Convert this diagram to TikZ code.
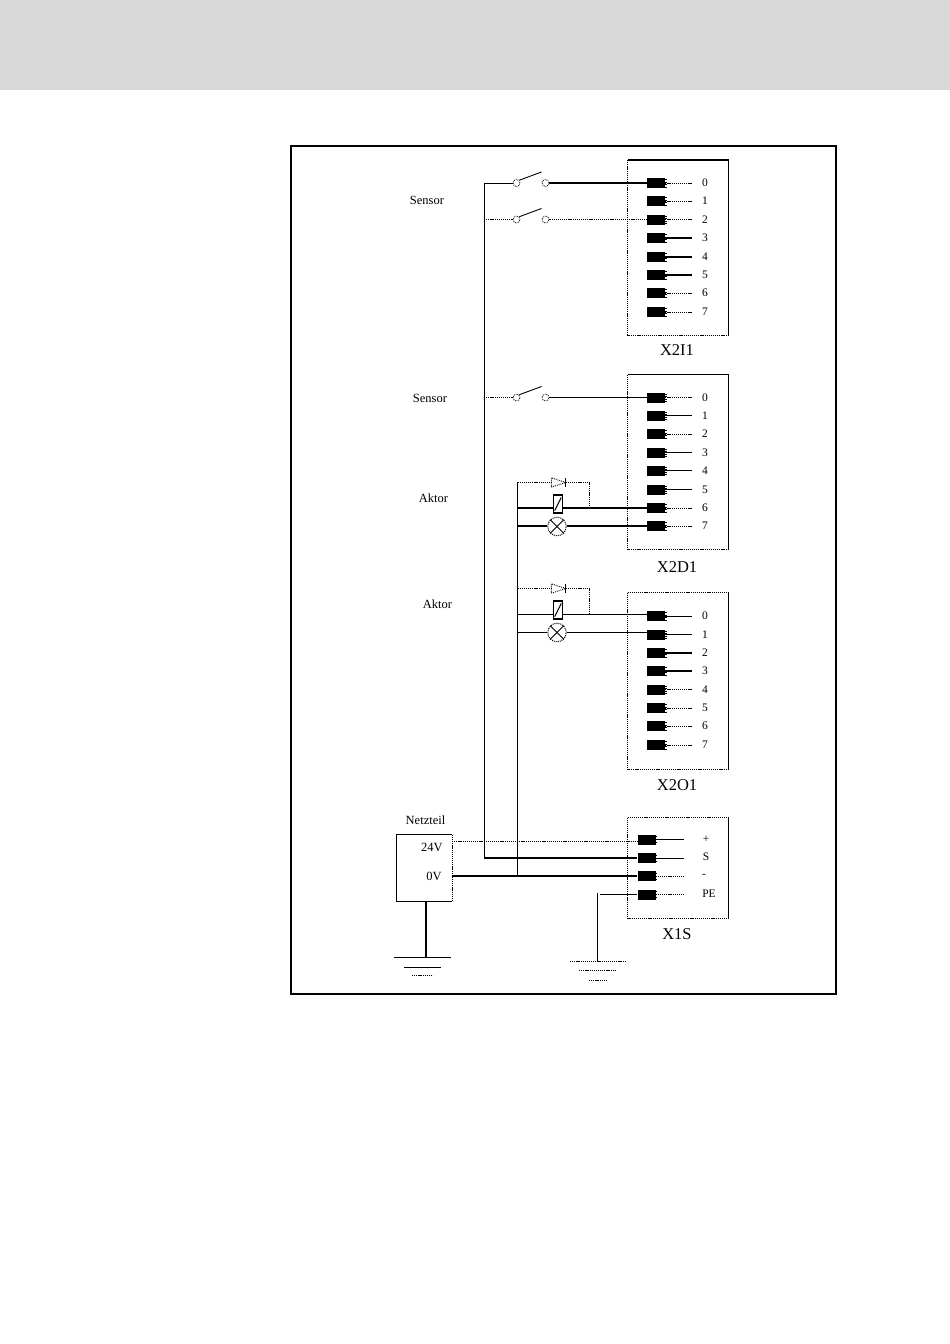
\documentclass[tikz,border=0pt]{standalone}
\usepackage{fontspec}
\usetikzlibrary{calc}
\setmainfont{Liberation Serif}
\begin{document}
\begin{tikzpicture}[x=1pt,y=-1pt,
  wire/.style={line width=1pt,line cap=butt},
  thickwire/.style={line width=2pt},
  dotwire/.style={line width=1pt,dash pattern=on 1.2pt off 0.9pt},
  pinbox/.style={fill=black,inner sep=0pt,minimum width=18pt,minimum height=10pt},
  sterm/.style={circle,draw,densely dotted,line width=0.8pt,inner sep=0pt,minimum size=7pt},
  small/.style={inner sep=0pt,font=\fontsize{12.5}{13}\selectfont},
  big/.style={inner sep=0pt,font=\fontsize{16.5}{17}\selectfont},
  pinno/.style={inner sep=0pt,font=\fontsize{11.5}{12}\selectfont},
  anchorpt/.style={inner sep=0pt,minimum size=0pt}]
\useasboundingbox (0,0) rectangle (950,1344);
\fill[white] (0,0) rectangle (950,1344);
\fill[black!15] (0,0) rectangle (950,90);
% frame
\draw[line width=2pt] (291,146) rectangle (836,994);
% connector housings
\newcommand{\housing}[6]{%
  \draw[dotwire] (#1,#3) -- (#1,#4) -- (#2,#4);
  \draw[#5] (#1,#3) -- (#2,#3);
  \draw[#6] (#2,#3) -- (#2,#4);}
\housing{627.5}{728.5}{160}{335}{thickwire}{wire}
\housing{627.5}{728.5}{374.5}{549.5}{wire}{wire}
\housing{627.5}{728.5}{592.5}{769.5}{dotwire}{wire}
\housing{627.5}{728.5}{817.5}{918.5}{dotwire}{wire}
% pins: name, y, label, lead style
\newcommand{\pinrow}[4]{%
  \node[pinbox] (#1) at (656,#2) {};
  \foreach \dy in {-3.5,-1,1.5,4} \draw[line width=0.8pt] (665,#2+\dy) -- (667,#2+\dy);
  \coordinate (#1e) at (692,#2);
  \draw[#4] (#1.east) -- (#1e);
  \node[pinno] (#1t) at (705,#2) {#3};}
\pinrow{Ia}{183}{0}{dotwire}
\pinrow{Ib}{201}{1}{dotwire}
\pinrow{Ic}{219.5}{2}{dotwire}
\pinrow{Id}{238}{3}{thickwire}
\pinrow{Ie}{257}{4}{thickwire}
\pinrow{If}{275}{5}{thickwire}
\pinrow{Ig}{293}{6}{dotwire}
\pinrow{Ih}{312}{7}{dotwire}
\pinrow{Da}{397.5}{0}{dotwire}
\pinrow{Db}{415.5}{1}{wire}
\pinrow{Dc}{434}{2}{dotwire}
\pinrow{Dd}{452.5}{3}{wire}
\pinrow{De}{470.5}{4}{wire}
\pinrow{Df}{489.5}{5}{wire}
\pinrow{Dg}{508}{6}{dotwire}
\pinrow{Dh}{526}{7}{dotwire}
\pinrow{Oa}{616}{0}{wire}
\pinrow{Ob}{634.5}{1}{wire}
\pinrow{Oc}{653}{2}{thickwire}
\pinrow{Od}{671}{3}{thickwire}
\pinrow{Oe}{689.5}{4}{dotwire}
\pinrow{Of}{708}{5}{dotwire}
\pinrow{Og}{726}{6}{dotwire}
\pinrow{Oh}{745}{7}{dotwire}
% X1S pins
\newcommand{\spin}[4]{%
  \node[pinbox] (#1) at (646.5,#2) {};
  \foreach \dy in {-3,0,3} \draw[line width=0.8pt] (655,#2+\dy) -- (657,#2+\dy);
  \coordinate (#1e) at (684,#2);
  \draw[#4] (#1.east) -- (#1e);}
\spin{Sa}{839.5}{+}{wire}
\spin{Sb}{858}{S}{wire}
\spin{Sc}{876}{-}{dotwire}
\spin{Sd}{894.5}{PE}{dotwire}
\node[pinno] (Sat) at (706,839) {+};
\node[pinno] (Sbt) at (706,857) {S};
\node[pinno] (Sct) at (704,876) {-};
\node[pinno] (Sdt) at (709,894) {PE};
% bus junctions
\coordinate (busAtop) at (484,183);
\coordinate (busAsw2) at (484,219.5);
\coordinate (busAsw3) at (484,397.5);
\coordinate (busAbot) at (484,858);
\coordinate (busBtop) at (517.5,482.5);
\coordinate (busBr1) at (517.5,508);
\coordinate (busBl1) at (517.5,526);
\coordinate (busBd2) at (517.5,588.5);
\coordinate (busBr2) at (517.5,614.5);
\coordinate (busBl2) at (517.5,632.5);
\coordinate (busBbot) at (517.5,876);
\draw[wire] (484,182.5) -- (484,859);
\draw[wire] (517.5,482) -- (517.5,877);
% switches
\newcommand{\switch}[2]{%
  \node[sterm] (#1l) at (516.5,#2) {};
  \node[sterm] (#1r) at (545.5,#2) {};
  \draw[line width=0.9pt] (#1l.north east) -- (541.5,#2-11);}
\switch{swa}{183}
\switch{swb}{219.5}
\switch{swc}{397.5}
\draw[wire] (busAtop) -- (swal);
\draw[thickwire] (swar) -- (Ia.west);
\draw[dotwire] (busAsw2) -- (swbl);
\draw[dotwire] (swbr) -- (Ic.west);
\draw[dotwire] (busAsw3) -- (swcl);
\draw[wire] (swcr) -- (Da.west);
% diode / relay / lamp groups
\newcommand{\actor}[5]{% name, diode y, relay y, wire y, lamp y
  \node[anchorpt,minimum width=14pt,minimum height=9pt] (#1d) at (558.5,#2) {};
  \draw[line width=0.9pt,densely dotted] (#1d.north west) -- (#1d.south west) -- (#1d.east) -- cycle;
  \draw[line width=1.2pt] (#1d.north east) -- (#1d.south east);
  \node[draw,line width=1.2pt,inner sep=0pt,minimum width=9.5pt,minimum height=18pt] (#1r) at (558,#3) {};
  \draw[line width=1pt] ($(#1r.south west)+(2,-3)$) -- ($(#1r.north east)+(-2,3)$);
  \node[draw,circle,densely dotted,line width=1pt,inner sep=0pt,minimum size=18.5pt] (#1l) at (557,#5) {};
  \draw[line width=0.9pt] (#1l.north west) -- (#1l.south east);
  \draw[line width=0.9pt] (#1l.south west) -- (#1l.north east);
  \coordinate (#1j) at (589.5,#4);
  \coordinate (#1k) at (589.5,#2);}
\actor{ua}{482.5}{504}{508}{526.5}
\actor{ub}{588.5}{610}{614.5}{632.5}
% first group
\draw[dotwire] (busBtop) -- (uad.west);
\draw[dotwire] (uad.east) -- (uak) -- (uaj);
\draw[thickwire] (busBr1) -- (uar.west |- busBr1);
\draw[thickwire] (uar.east |- busBr1) -- (Dg.west);
\draw[thickwire] (busBl1) -- (ual.west |- busBl1);
\draw[thickwire] (ual.east |- busBl1) -- (Dh.west);
% second group
\draw[dotwire] (busBd2) -- (ubd.west);
\draw[dotwire] (ubd.east) -- (ubk) -- (ubj);
\draw[wire] (busBr2) -- (ubr.west |- busBr2);
\draw[wire] (ubr.east |- busBr2) -- (Oa.west |- busBr2);
\draw[wire] (busBl2) -- (ubl.west |- busBl2);
\draw[wire] (ubl.east |- busBl2) -- (Ob.west |- busBl2);
% power supply
\node[inner sep=0pt,minimum width=55pt,minimum height=66pt] (psu) at (424.5,868) {};
\draw[wire] (psu.north east) -- (psu.north west) -- (psu.south west) -- (psu.south east);
\draw[dotwire] (psu.north east) -- (psu.south east);
\coordinate (psuA) at (452,841.5);
\coordinate (psuB) at (452,876);
\draw[dotwire] (psuA) -- (psuA -| Sa.west);
\draw[thickwire] (busAbot) -- (Sb.west);
\draw[thickwire] (psuB) -- (Sc.west);
% grounds
\coordinate (gndA) at (426,956.5);
\draw[thickwire] (psu.south -| gndA) -- (gndA);
\draw[wire] (394,957.5) -- (451,957.5);
\draw[wire] (404,967.5) -- (441,967.5);
\draw[dotwire] (412,975.5) -- (433,975.5);
\coordinate (gndB) at (597.5,961);
\coordinate (gndBt) at (597.5,893);
\draw[wire] (gndBt) -- (gndB);
\draw[wire] (600,894.5) -- (Sd.west);
\draw[dotwire] (570,961.5) -- (626,961.5);
\draw[dotwire] (579,970.5) -- (616,970.5);
\draw[dotwire] (589,980.5) -- (607,980.5);
% labels
\node[small] (s1) at (427,200) {Sensor};
\node[small] (s2) at (430,398) {Sensor};
\node[small] (a1) at (433.5,498) {Aktor};
\node[small] (a2) at (437.5,604) {Aktor};
\node[small] (n1) at (425.5,820) {Netzteil};
\node[small] (v1) at (432,847) {24V};
\node[small] (v2) at (434,876) {0V};
\node[big] (x1) at (677,350) {X2I1};
\node[big] (x2) at (677,567) {X2D1};
\node[big] (x3) at (677,785) {X2O1};
\node[big] (x4) at (677,934) {X1S};
\end{tikzpicture}
\end{document}
